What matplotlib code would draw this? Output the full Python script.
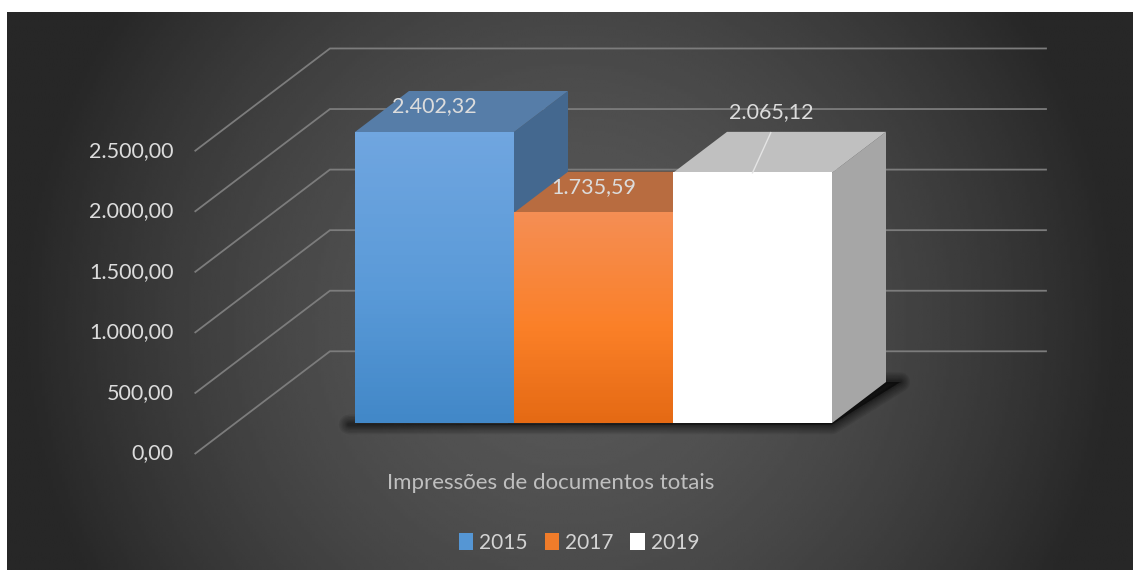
import numpy as np
import matplotlib
matplotlib.use('Agg')
import matplotlib.pyplot as plt
from matplotlib.colors import LinearSegmentedColormap
from matplotlib.patches import Patch, Polygon

years = ['2015', '2017', '2019']
values = [2402.32, 1735.59, 2065.12]
value_labels = ['2.402,32', '1.735,59', '2.065,12']
ticks = [0, 500, 1000, 1500, 2000, 2500]
tick_labels = ['0,00', '500,00', '1.000,00', '1.500,00', '2.000,00', '2.500,00']
category = 'Impressões de documentos totais'

top_col = ['#70a6e0', '#f58e54', '#ffffff']
mid_col = ['#5a9ad8', '#fb8028', '#ffffff']
bot_col = ['#4288c8', '#e56a14', '#ffffff']
cap_col = ['#567da8', '#b86c40', '#c0c0c0']
side_col = ['#44688f', '#9a5a30', '#a6a6a6']
leg_col = ['#5596d4', '#f07c2a', '#ffffff']
txt = '#dcdcdc'
grid = '#7c7c7c'

W, H = 1133, 570
plt.rcParams['font.family'] = ['Lato', 'DejaVu Sans']
fig = plt.figure(figsize=(W / 100, H / 100), dpi=100, facecolor='white')

# dark panel with a radial glow
bg = fig.add_axes([7 / W, 0, (W - 7) / W, (H - 12) / H], zorder=0)
xx, yy = np.meshgrid(np.linspace(7, W, 400), np.linspace(12, H, 200))
r = np.sqrt(((xx - 570) / 640) ** 2 + ((yy - 320) / 640) ** 2)
shade = np.clip(0.345 - 0.248 * r ** 1.7, 0.155, 1)
bg.imshow(shade, cmap='gray', vmin=0, vmax=1, aspect='auto', interpolation='bilinear')
bg.axis('off')

# data axes: one slot = one bar wide, y in real values on the bars' front plane
px_x = 159.0
px_v = 291.0 / 2402.32
ax = fig.add_axes([0, 0, 1, 1], zorder=1)
ax.patch.set_alpha(0)
ax.axis('off')
x0 = 355.0
y0 = 423.0
xlim = (-x0 / px_x, (W - x0) / px_x)
ylim = ((y0 - H) / px_v, y0 / px_v)

# one bar depth in data units
dx = 54.0 / px_x
dv = 41.0 / px_v


def at(x, v, d):
    return (x + d * dx, v + d * dv)


# gridlines run along the sloped side wall, then across the back wall
wall_left = -119.5 / px_x
wall_right = (1046 - x0) / px_x
d_front = -30.5 / 41.0
d_back = 71.7 / 41.0
for t, lab in zip(ticks, tick_labels):
    a = at(wall_left, t, d_front)
    b = at(wall_left, t, d_back)
    ax.plot([a[0], b[0], wall_right], [a[1], b[1], b[1]], color=grid, lw=1.3, zorder=2,
            solid_joinstyle='miter')
    ax.text(a[0] - 22 / px_x, a[1], lab, color=txt, fontsize=15.5,
            ha='right', va='center', zorder=6)

# soft shadow under the bars
n = len(values)
floor = [at(-0.04, -12, 0), at(n, -12, 0), at(n + 0.09, 0, 1.0), at(n, 0, 1.0), at(n, 0, 0)]
for lw in [14, 12, 10, 8, 6, 4.5, 3, 2]:
    ax.add_patch(Polygon(floor, closed=True, fc='black', ec='black', lw=lw, alpha=0.08,
                         joinstyle='round', zorder=3))

# 3D bars; later bars hide the side of earlier ones
for i, v in enumerate(values):
    side = [at(i + 1, 0, 0), at(i + 1, v, 0), at(i + 1, v, 1), at(i + 1, 0, 1)]
    cap = [at(i, v, 0), at(i + 1, v, 0), at(i + 1, v, 1), at(i, v, 1)]
    ax.add_patch(Polygon(side, closed=True, fc=side_col[i], ec='none', zorder=4 + i * 0.1))
    ax.add_patch(Polygon(cap, closed=True, fc=cap_col[i], ec='none', zorder=4 + i * 0.1))
    cmap = LinearSegmentedColormap.from_list('b', [(0, bot_col[i]), (0.45, mid_col[i]), (1, top_col[i])])
    ax.imshow(np.linspace(1, 0, 64).reshape(-1, 1), cmap=cmap, vmin=0, vmax=1, aspect='auto',
              extent=(i, i + 1, 0, v), zorder=4.05 + i * 0.1)

# data labels
ax.text(0.5, values[0] + 0.63 * dv, value_labels[0], color=txt, fontsize=15.5, ha='center',
        va='center', zorder=7)
ax.text(1.5, values[1] + 0.62 * dv, value_labels[1], color=txt, fontsize=15.5, ha='center',
        va='center', zorder=7)
ax.text(2.62, values[2] + 1.48 * dv, value_labels[2], color=txt, fontsize=15.5, ha='center',
        va='center', zorder=7)
ax.plot([2.5, 2.615], [values[2], values[2] + 0.98 * dv], color='#e4e4e4', lw=1, zorder=7)

# category label
ax.text(1.23, -60 / px_v, category, color='#bfbfbf', fontsize=16, ha='center', va='center',
        zorder=7)

ax.set_xlim(*xlim)
ax.set_ylim(*ylim)

handles = [Patch(fc=c, ec='none', label=y) for c, y in zip(leg_col, years)]
leg = ax.legend(handles=handles, ncol=3, frameon=False, loc='center',
                bbox_to_anchor=(579 / W, 1 - 543 / H), fontsize=15, labelcolor='#d4d4d4',
                handlelength=0.68, handleheight=0.9, handletextpad=0.29, columnspacing=0.82)

fig.savefig('out.png', dpi=100, facecolor='white')
